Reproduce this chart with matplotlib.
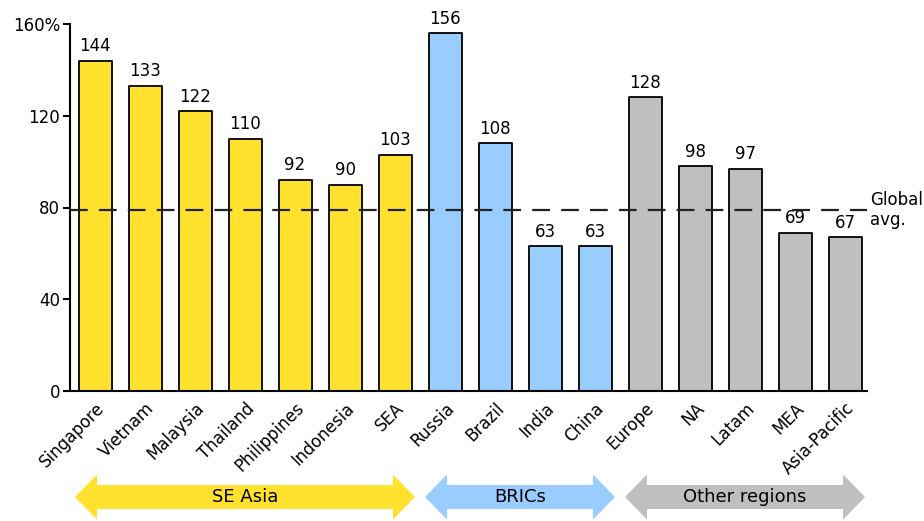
import numpy as np
import matplotlib
matplotlib.use("Agg")
import matplotlib.pyplot as plt
from matplotlib.patches import Polygon

plt.rcParams["font.family"] = ["DejaVu Sans"]

# data
countries = ["Singapore", "Vietnam", "Malaysia", "Thailand", "Philippines", "Indonesia", "SEA",
             "Russia", "Brazil", "India", "China",
             "Europe", "NA", "Latam", "MEA", "Asia-Pacific"]
values = [144, 133, 122, 110, 92, 90, 103,
          156, 108, 63, 63,
          128, 98, 97, 69, 67]
group_names = ["SE Asia", "BRICs", "Other regions"]
group_sizes = [7, 4, 5]
global_avg = 79
y_ticks = [0, 40, 80, 120, 160]

GROUP_COLORS = ["#FFE12E", "#99CCFF", "#BFBFBF"]

fig = plt.figure(figsize=(9.24, 5.21), dpi=100)
ax = fig.add_axes([70 / 924, 130 / 521, 797 / 924, 367 / 521])

bar_colors = []
for c, n in zip(GROUP_COLORS, group_sizes):
    bar_colors += [c] * n

x = np.arange(len(countries))
bars = ax.bar(x, values, width=0.66, color=bar_colors, edgecolor="black",
              linewidth=1.3, zorder=2)
for b in bars:
    b.set_joinstyle("round")

for xi, v in zip(x, values):
    ax.annotate(f"{v}", (xi, v), xytext=(0, 4), textcoords="offset points",
                ha="center", va="bottom", fontsize=12)

ax.axhline(global_avg, color="#222222", lw=1.6, ls=(0, (8, 5)), zorder=3)
ax.annotate("Global\navg.", (1, global_avg), xycoords=("axes fraction", "data"),
            xytext=(2, 0), textcoords="offset points", ha="left", va="center",
            fontsize=12, linespacing=1.15, annotation_clip=False)

ax.set_xlim(-0.5, len(countries) - 0.56)
ax.set_ylim(0, 160)
ax.set_yticks(y_ticks)
ax.set_yticklabels([str(t) if t != 160 else f"{t}%" for t in y_ticks], fontsize=12)
ax.set_xticks(x)
ax.set_xticklabels(countries, rotation=45, ha="right", rotation_mode="anchor", fontsize=12)
ax.tick_params(axis="x", length=0, pad=6)
ax.tick_params(axis="y", length=5, width=1.5, pad=2)
for side in ["top", "right"]:
    ax.spines[side].set_visible(False)
for side in ["left", "bottom"]:
    ax.spines[side].set_linewidth(1.5)

# group arrows under the labels
to_fig = fig.transFigure.inverted()
y_mid = 24 / 521
body = 12 / 521
head = 22.5 / 521
head_len = 22 / 924
start = 0
for name, n, c in zip(group_names, group_sizes, GROUP_COLORS):
    x0 = to_fig.transform(ax.transData.transform((start - 0.4, 0)))[0]
    x1 = to_fig.transform(ax.transData.transform((start + n - 1 + 0.4, 0)))[0]
    pts = [(x0, y_mid), (x0 + head_len, y_mid + head), (x0 + head_len, y_mid + body),
           (x1 - head_len, y_mid + body), (x1 - head_len, y_mid + head), (x1, y_mid),
           (x1 - head_len, y_mid - head), (x1 - head_len, y_mid - body),
           (x0 + head_len, y_mid - body), (x0 + head_len, y_mid - head)]
    fig.patches.append(Polygon(pts, closed=True, facecolor=c, edgecolor="none",
                               transform=fig.transFigure))
    fig.text((x0 + x1) / 2, y_mid, name, ha="center", va="center", fontsize=13)
    start += n

fig.savefig("out.png", dpi=100)
